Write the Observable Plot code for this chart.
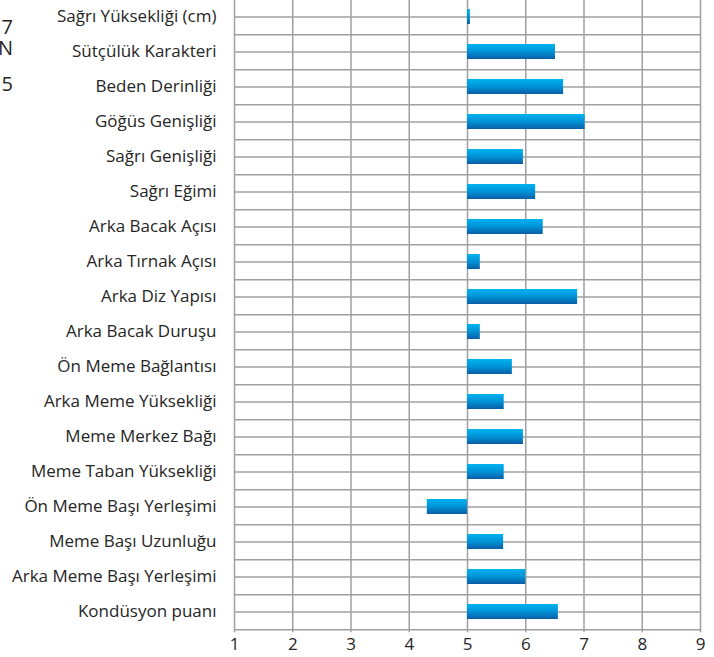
<!DOCTYPE html>
<html>
<head>
<meta charset="utf-8">
<script src="https://cdn.jsdelivr.net/npm/d3@7"></script>
<script src="https://cdn.jsdelivr.net/npm/@observablehq/plot@0.6"></script>
<style>
  html, body { margin: 0; padding: 0; background: #fff; }
  #chart { position: relative; width: 714px; height: 657px; overflow: hidden; }
</style>
</head>
<body>
<div id="chart"></div>
<script>
const categories = [
  "Sağrı Yüksekliği (cm)",
  "Sütçülük Karakteri",
  "Beden Derinliği",
  "Göğüs Genişliği",
  "Sağrı Genişliği",
  "Sağrı Eğimi",
  "Arka Bacak Açısı",
  "Arka Tırnak Açısı",
  "Arka Diz Yapısı",
  "Arka Bacak Duruşu",
  "Ön Meme Bağlantısı",
  "Arka Meme Yüksekliği",
  "Meme Merkez Bağı",
  "Meme Taban Yüksekliği",
  "Ön Meme Başı Yerleşimi",
  "Meme Başı Uzunluğu",
  "Arka Meme Başı Yerleşimi",
  "Kondüsyon puanı"
];
const values = [5.05, 6.51, 6.65, 7.02, 5.96, 6.17, 6.30, 5.22, 6.89, 5.22, 5.77, 5.63, 5.96, 5.63, 4.31, 5.62, 6.00, 6.56];
const baseline = 5;
const xTicks = [1, 2, 3, 4, 5, 6, 7, 8, 9];
const cutLegend = ["7", "N", "5"];

const data = categories.map((c, i) => ({category: c, value: values[i]}));

const W = 714, H = 657;
const yTop = -3.15, yBottom = 632.15;
const step = (yBottom - yTop) / categories.length;

const font = "'Open Sans', Lato, sans-serif";

const plot = Plot.plot({
  width: W,
  height: H,
  marginLeft: 234,
  marginRight: 14,
  marginTop: 0,
  marginBottom: H - yBottom,
  style: {fontFamily: font, fontSize: "17px", color: "#262626", background: "#fff"},
  x: {domain: [1, 9], ticks: xTicks, tickFormat: d => String(d)},
  y: {type: "band", domain: categories, range: [yTop, yBottom], padding: 0},
  marks: [
    Plot.ruleX(xTicks, {stroke: "#a0a0a0", strokeWidth: 1.5}),
    Plot.ruleY(categories, {stroke: "#a0a0a0", strokeWidth: 1.5}),
    Plot.ruleY(categories, {stroke: "#a0a0a0", strokeWidth: 1.5, dy: step / 2}),
    Plot.barX(data, {y: "category", x1: baseline, x2: "value", fill: "url(#barGrad)", insetTop: 10, insetBottom: 10}),
    Plot.axisX({ticks: xTicks, tickSize: 0, tickPadding: 5, fontSize: 17, fill: "#262626", label: null}),
    Plot.axisY({tickSize: 0, tickPadding: 18, fontSize: 17, fill: "#262626", label: null})
  ]
});

const svg = d3.select(plot);
const defs = svg.insert("defs", ":first-child");
const g = defs.append("linearGradient").attr("id", "barGrad").attr("x1", 0).attr("y1", 0).attr("x2", 0).attr("y2", 1);
g.append("stop").attr("offset", "0%").attr("stop-color", "#00b2f0");
g.append("stop").attr("offset", "50%").attr("stop-color", "#0093d6");
g.append("stop").attr("offset", "100%").attr("stop-color", "#0a5ea6");

const legendY = [34, 55, 91];
const legendText = svg.append("text")
  .attr("text-anchor", "end")
  .attr("font-family", font).attr("font-size", 20).attr("fill", "#262626");
legendText.selectAll("tspan").data(cutLegend).join("tspan")
  .attr("x", 13).attr("y", (d, i) => legendY[i])
  .text(d => d);

document.getElementById("chart").appendChild(plot);
</script>
</body>
</html>
